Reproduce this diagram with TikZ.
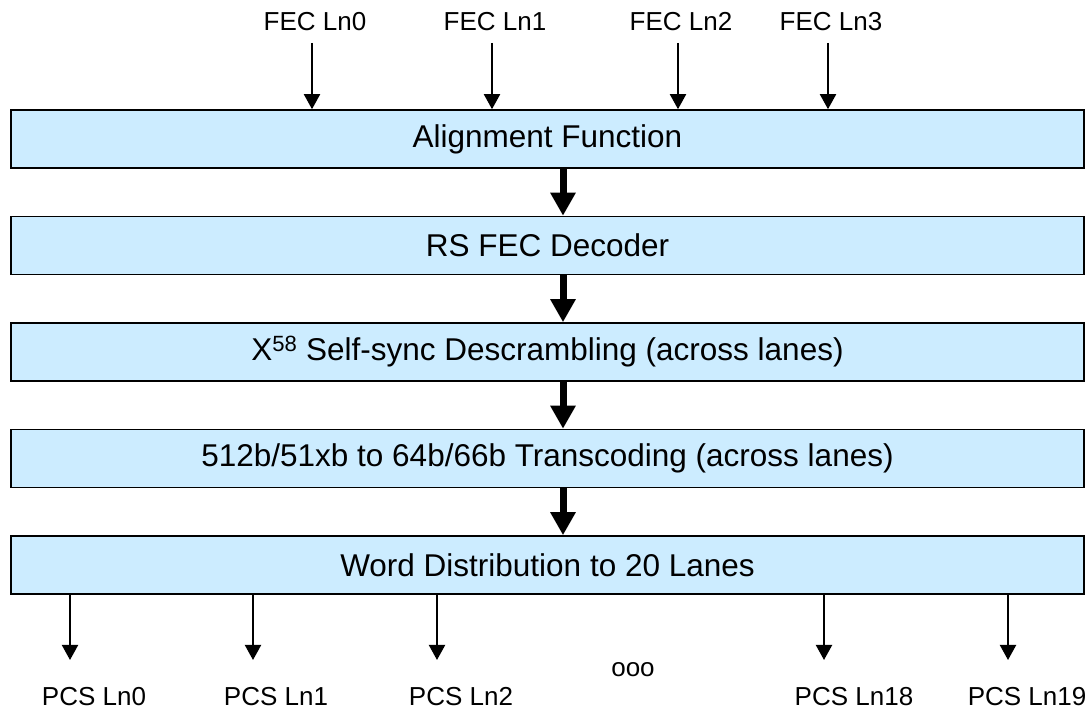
\documentclass[tikz,border=0pt]{standalone}
\usepackage{fontspec}
\setmainfont{Liberation Sans}
\usetikzlibrary{positioning,arrows.meta}
\definecolor{boxblue}{RGB}{204,236,255}
\tikzset{
	block/.style={draw, fill=boxblue, line width=1.6pt, minimum width=1073pt,
		minimum height=58pt, inner sep=0pt, font=\fontsize{31.5}{36}\selectfont},
	lanelbl/.style={anchor=base, inner sep=0pt, font=\fontsize{26}{30}\selectfont},
	lanearrow/.style={line width=2pt, -{Triangle[width=16pt,length=15pt]}},
	bigarrow/.style={line width=7pt, -{Triangle[width=24pt,length=23pt]}}
}

\begin{document}
\begin{tikzpicture}[x=1pt,y=1pt]
\useasboundingbox (0,0) rectangle (1092,712);

%% Bloques %%
\node[block] (align) at (547.5,573) {Alignment Function};
\node[block, below=46.9pt of align] (rsfec) {RS FEC Decoder};
\node[block, below=46.9pt of rsfec] (descr) {X\textsuperscript{58} Self-sync Descrambling (across lanes)};
\node[block, below=46.9pt of descr] (transc) {512b/51xb to 64b/66b Transcoding (across lanes)};
\node[block, below=46.9pt of transc] (distr) {Word Distribution to 20 Lanes};

\coordinate (mid) at (563,0);
\foreach \a/\b in {align/rsfec, rsfec/descr, descr/transc, transc/distr}
{
	\draw[bigarrow] (\a.south -| mid) -- (\b.north -| mid);
}

%% Entradas %%
\foreach \n/\x in {0/312, 1/492, 2/678, 3/828}
{
	\node[lanelbl] (fec\n) at (\x+3,681) {FEC Ln\n};
	\coordinate (fa\n) at (\x,669);
	\draw[lanearrow] (fa\n) -- (fa\n |- align.north);
}

%% Salidas %%
\foreach \n/\x/\lx in {0/70/94, 1/253/276, 2/437/461, 18/824/854, 19/1008/1027}
{
	\coordinate (pa\n) at (\x,52);
	\draw[lanearrow] (pa\n |- distr.south) -- (pa\n);
	\node[lanelbl] (pcs\n) at (\lx,7) {PCS Ln\n};
}
\node[lanelbl] (dots) at (633,35) {ooo};
\end{tikzpicture}
\end{document}
